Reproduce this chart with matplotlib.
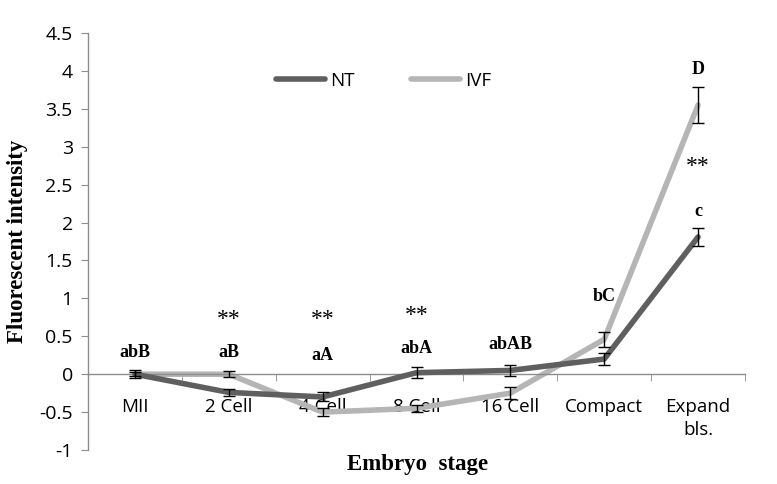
import matplotlib.pyplot as plt
from matplotlib.ticker import FixedLocator, MultipleLocator

# data
stages = ["MII", "2 Cell", "4 Cell", "8 Cell", "16 Cell", "Compact", "Expand\nbls."]
nt = [0.0, -0.24, -0.30, 0.02, 0.05, 0.20, 1.81]
nt_err = [0.05, 0.05, 0.06, 0.07, 0.07, 0.08, 0.12]
ivf = [0.0, 0.0, -0.50, -0.45, -0.25, 0.46, 3.55]
ivf_err = [0.03, 0.04, 0.05, 0.05, 0.08, 0.10, 0.24]

letters = ["abB", "aB", "aA", "abA", "abAB", "bC", "D"]
letter_y = [0.28, 0.28, 0.25, 0.34, 0.39, 1.03, 4.02]
nt_letter = "c"
nt_letter_y = 2.14
stars_x = [1, 2, 3, 6]
stars_y = [0.72, 0.72, 0.77, 2.74]

plt.rcParams["font.family"] = ["Open Sans", "DejaVu Sans"]

fig = plt.figure(figsize=(7.77, 4.84), dpi=100)
ax = fig.add_axes([0.1133, 0.0702, 0.8455, 0.8616])

x = list(range(len(stages)))
ax.plot(x, nt, color="#5f5f5f", lw=4, label="NT", solid_capstyle="round", zorder=3)
ax.plot(x, ivf, color="#b5b5b5", lw=4, label="IVF", solid_capstyle="round", zorder=2)
ax.errorbar(x, nt, yerr=nt_err, fmt="none", ecolor="black", elinewidth=1, capsize=4, capthick=1, zorder=4)
ax.errorbar(x, ivf, yerr=ivf_err, fmt="none", ecolor="black", elinewidth=1, capsize=4, capthick=1, zorder=4)

serif = dict(family="Liberation Serif", fontweight="bold", fontsize=13, ha="center", va="center")
for xi, lab, yy in zip(x, letters, letter_y):
    ax.text(xi, yy, lab, **serif)
ax.text(6, nt_letter_y, nt_letter, **serif)
for xi, yy in zip(stars_x, stars_y):
    ax.text(xi, yy, "**", family="Liberation Serif", fontsize=17, ha="center", va="center")

ax.set_xlim(-0.5, 6.5)
ax.set_ylim(-1, 4.5)
ax.yaxis.set_major_locator(MultipleLocator(0.5))
ax.set_yticklabels([f"{v:g}" for v in ax.get_yticks()])

ax.spines["top"].set_visible(False)
ax.spines["right"].set_visible(False)
ax.spines["bottom"].set_position(("data", 0))
for s in ["left", "bottom"]:
    ax.spines[s].set_color("#8c8c8c")
    ax.spines[s].set_linewidth(1)

ax.set_xticks(x)
ax.set_xticklabels(stages, fontsize=13.5, linespacing=1.35)
ax.tick_params(axis="x", which="major", length=0, pad=17)
ax.xaxis.set_minor_locator(FixedLocator([i + 0.5 for i in range(-1, 7)]))
ax.tick_params(axis="x", which="minor", length=5, color="#8c8c8c", direction="out")
ax.tick_params(axis="y", length=5, color="#8c8c8c", labelsize=14, pad=6)
for t in ax.get_xticklabels():
    t.set_verticalalignment("top")

ax.set_ylabel("Fluorescent intensity", family="Liberation Serif", fontweight="bold", fontsize=16.5, labelpad=8)
fig.text(0.537, 0.04, "Embryo  stage", family="Liberation Serif", fontweight="bold", fontsize=16.5, ha="center", va="center")

ax.legend(loc="center", bbox_to_anchor=(0.45, 0.885), ncol=2, frameon=False, fontsize=13.5,
          handlelength=2.6, columnspacing=3.0, handletextpad=0.3)

fig.savefig("out.png", dpi=100)
